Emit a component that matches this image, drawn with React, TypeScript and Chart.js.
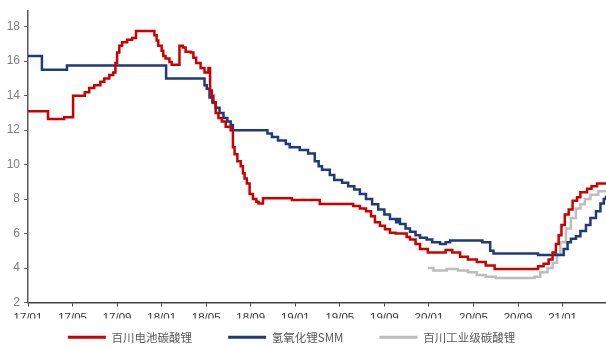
import React, { useEffect, useRef } from 'react';
import { Chart, registerables } from 'chart.js';

Chart.register(...registerables);

// x values are months since 2017-01 (0 = 17/01)
const seriesNames = ['百川电池碳酸锂', '氢氧化锂SMM', '百川工业级碳酸锂'];

const redX = [0, 1.8, 3.25, 4.05, 5.1, 5.5, 5.95, 6.5, 6.85, 7.3, 7.65, 7.85, 8.0, 8.2, 8.45, 8.9, 9.35, 9.7, 11.35, 11.55, 11.7, 12.0, 12.15, 12.35, 12.7, 12.9, 13.6, 13.9, 14.15, 14.6, 14.85, 15.1, 15.5, 15.85, 16.2, 16.35, 16.5, 16.65, 16.85, 17.1, 17.4, 17.75, 18.2, 18.4, 18.55, 18.8, 19.1, 19.3, 19.45, 19.65, 19.9, 20.2, 20.5, 20.7, 21.1, 23.7, 26.2, 29.2, 29.8, 30.35, 30.8, 31.15, 31.6, 32.05, 32.5, 33.0, 34.0, 34.3, 34.8, 35.2, 35.9, 37.5, 38.1, 38.8, 39.5, 40.3, 41.1, 41.9, 45.8, 46.3, 46.75, 47.1, 47.4, 47.65, 47.9, 48.2, 48.55, 48.9, 49.3, 49.6, 50.2, 50.6, 51.1, 51.9];
const redY = [13.1, 12.65, 12.75, 14.0, 14.2, 14.45, 14.6, 14.8, 15.0, 15.2, 15.35, 15.9, 16.5, 16.9, 17.1, 17.25, 17.35, 17.75, 17.5, 17.2, 16.9, 16.6, 16.3, 16.15, 15.95, 15.8, 16.9, 16.8, 16.55, 16.5, 16.2, 15.9, 15.6, 15.35, 15.6, 14.3, 14.0, 13.6, 13.0, 12.7, 12.5, 12.2, 12.0, 11.0, 10.6, 10.2, 9.9, 9.5, 9.2, 8.9, 8.3, 8.0, 7.85, 7.75, 8.05, 7.95, 7.72, 7.6, 7.45, 7.3, 7.0, 6.65, 6.45, 6.25, 6.05, 6.0, 5.8, 5.65, 5.4, 5.1, 4.9, 5.05, 4.9, 4.65, 4.5, 4.35, 4.15, 3.95, 4.1, 4.25, 4.5, 4.9, 5.4, 5.9, 6.5, 7.1, 7.4, 7.9, 8.1, 8.4, 8.6, 8.75, 8.9, 8.9];

const blueX = [0, 1.25, 3.5, 12.4, 15.85, 16.05, 16.3, 16.55, 16.85, 17.2, 17.55, 17.9, 18.2, 18.4, 21.5, 21.9, 22.45, 23.15, 23.5, 24.4, 25.15, 25.75, 26.1, 26.4, 27.1, 27.5, 28.2, 28.75, 29.3, 29.8, 30.35, 30.9, 31.45, 32.0, 32.5, 33.05, 33.25, 33.4, 33.9, 34.3, 34.8, 35.2, 35.8, 36.3, 37.0, 37.5, 37.9, 40.8, 41.5, 41.8, 45.8, 48.1, 48.45, 48.75, 49.2, 49.6, 50.1, 50.5, 51.0, 51.4, 51.7, 51.9];
const blueY = [16.3, 15.5, 15.75, 15.0, 14.6, 14.4, 13.9, 13.6, 13.3, 13.0, 12.7, 12.5, 12.3, 12.0, 11.8, 11.6, 11.4, 11.2, 11.0, 10.85, 10.65, 10.2, 9.9, 9.7, 9.4, 9.1, 8.95, 8.75, 8.55, 8.3, 8.0, 7.7, 7.4, 7.1, 6.85, 6.65, 6.85, 6.55, 6.3, 6.1, 5.9, 5.75, 5.65, 5.5, 5.4, 5.5, 5.6, 5.5, 5.0, 4.85, 4.75, 5.1, 5.5, 5.7, 5.85, 6.15, 6.5, 6.9, 7.3, 7.75, 8.0, 8.2];

const grayX = [35.9, 36.4, 37.6, 38.6, 39.5, 40.3, 41.1, 42.0, 45.5, 46.0, 46.65, 47.1, 47.5, 47.8, 48.3, 48.75, 49.2, 49.6, 50.0, 50.5, 51.2, 51.9];
const grayY = [4.0, 3.85, 3.95, 3.85, 3.75, 3.6, 3.5, 3.42, 3.5, 3.75, 4.0, 4.3, 4.8, 5.5, 6.3, 6.9, 7.45, 7.7, 8.0, 8.25, 8.45, 8.45];

const xMin = 0;
const xMax = 51.9;
const xStep = 4;
const yMin = 2;
const yMax = 18.9;
const yStep = 2;

const colors = ['#CC0000', '#1F3A78', '#BDBDBD'];

const toPoints = (xs: number[], ys: number[]) => xs.map((x, i) => ({ x, y: ys[i] }));

const monthLabel = (m: number) => {
  const yy = 17 + Math.floor(m / 12);
  const mm = (m % 12) + 1;
  return `${yy}/${mm < 10 ? '0' + mm : mm}`;
};

export default function App() {
  const ref = useRef<HTMLCanvasElement>(null);

  useEffect(() => {
    if (!ref.current) return;
    const series = [toPoints(redX, redY), toPoints(blueX, blueY), toPoints(grayX, grayY)];
    const chart = new Chart(ref.current, {
      type: 'line',
      data: {
        datasets: series.map((d, i) => ({
          label: seriesNames[i],
          data: d,
          borderColor: colors[i],
          backgroundColor: colors[i],
          borderWidth: 2.5,
          pointRadius: 0,
          stepped: 'before' as const,
          fill: false,
        })),
      },
      options: {
        animation: false,
        responsive: false,
        maintainAspectRatio: false,
        layout: { padding: { top: 8, left: 0, right: 0, bottom: 0 } },
        scales: {
          x: {
            type: 'linear',
            min: xMin,
            max: xMax,
            grid: { drawOnChartArea: false, drawTicks: true, tickLength: 4, color: '#404040', lineWidth: 1 },
            border: { display: true, color: '#404040', width: 1.5 },
            ticks: {
              stepSize: xStep,
              includeBounds: false,
              autoSkip: false,
              maxRotation: 0,
              padding: 4,
              color: '#333333',
              font: { family: 'Liberation Sans, Arial, sans-serif', size: 11.5 },
              callback: (v: any) => monthLabel(Number(v)),
            },
            afterFit: (s: any) => { s.height = 16; },
          },
          y: {
            type: 'linear',
            min: yMin,
            max: yMax,
            grid: { drawOnChartArea: false, drawTicks: true, tickLength: 4, color: '#595959', lineWidth: 1 },
            border: { display: true, color: '#595959', width: 1.5 },
            ticks: {
              stepSize: yStep,
              includeBounds: false,
              padding: 4,
              color: '#7F7F7F',
              font: { family: 'Liberation Sans, Arial, sans-serif', size: 12 },
            },
            afterFit: (s: any) => { s.width = 28; },
          },
        },
        plugins: {
          tooltip: { enabled: false },
          legend: {
            position: 'bottom',
            labels: {
              boxWidth: 38,
              boxHeight: 3,
              padding: 13,
              color: '#595959',
              font: { family: '"Noto Sans CJK SC", sans-serif', size: 11.5 },
              generateLabels: (c: any) => {
                const items = Chart.defaults.plugins.legend.labels.generateLabels(c);
                return items.map((it: any, i: number) => ({
                  ...it,
                  text: it.text + '\u3000\u3000',
                  lineWidth: 0,
                  fillStyle: colors[i],
                  strokeStyle: colors[i],
                }));
              },
            },
          },
        },
      },
    });
    return () => chart.destroy();
  }, []);

  return (
    <div style={{ position: 'absolute', left: 0, top: 0, width: 606, height: 353, background: '#fff' }}>
      <canvas ref={ref} width={606} height={353} style={{ display: 'block' }} />
    </div>
  );
}
